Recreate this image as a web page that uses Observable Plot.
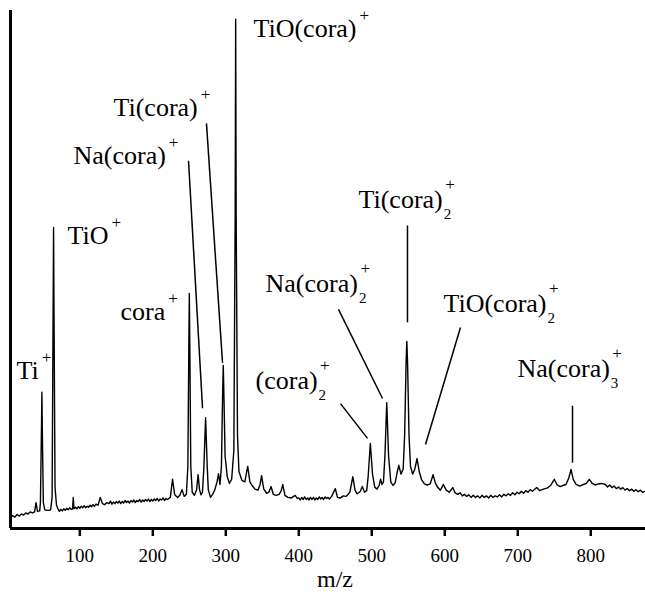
<!DOCTYPE html>
<html>
<head>
<meta charset="utf-8">
<script src="https://cdn.jsdelivr.net/npm/d3@7"></script>
<script src="https://cdn.jsdelivr.net/npm/@observablehq/plot@0.6"></script>
<style>
  html, body { margin: 0; padding: 0; background: #fff; }
  #chart svg { display: block; }
</style>
</head>
<body>
<div id="chart"></div>
<script>
// Mass spectrum: [m/z, relative intensity]
const spectrum = [
  [5, 2.0], [8, 2.5], [11, 2.2], [14, 2.7], [17, 2.4], [20, 2.8], [23, 2.6], [26, 3.0], [29, 2.8], [32, 3.2],
  [35, 3.0], [38, 3.2], [40, 5.0], [42, 3.3], [45, 3.4], [46, 5.0], [47.5, 20], [48, 26.3], [48.5, 20], [50, 5.0],
  [52, 3.6], [55, 3.5], [58, 3.5], [60, 3.6], [62, 6.0], [63.3, 40], [64, 58.1], [64.7, 40], [66, 8.0], [68, 4.5],
  [70, 3.8], [72, 3.3], [74, 3.7], [76, 3.4], [78, 3.8], [80, 3.5], [82, 3.9], [84, 3.6], [86, 4.0], [88, 3.7],
  [90, 3.8], [91, 6.0], [92, 3.8], [94, 4.1], [96, 3.8], [98, 4.2], [100, 3.9], [102, 4.3], [104, 4.0], [106, 4.4],
  [108, 4.0], [110, 4.3], [112, 4.1], [114, 4.5], [116, 4.2], [118, 4.6], [120, 4.3], [122, 4.7], [125, 4.5], [128, 6.0],
  [131, 4.8], [134, 4.6], [137, 5.0], [140, 4.8], [142, 5.3], [144, 4.7], [146, 5.1], [148, 4.8], [150, 5.2], [152, 4.9],
  [154, 5.3], [156, 4.8], [158, 5.2], [160, 4.9], [162, 5.4], [164, 5.0], [166, 5.3], [168, 4.9], [170, 5.4], [172, 5.1],
  [174, 5.5], [176, 5.0], [178, 5.4], [180, 5.2], [182, 5.6], [184, 5.1], [186, 5.5], [188, 5.2], [190, 5.6], [192, 5.3],
  [194, 5.7], [196, 5.2], [198, 5.6], [200, 5.3], [202, 5.7], [204, 5.4], [206, 5.8], [208, 5.3], [210, 5.7], [212, 5.5],
  [214, 5.9], [216, 5.4], [218, 5.8], [220, 5.6], [224, 6.0], [227, 9.5], [230, 6.5], [234, 6.0], [237, 6.4], [240, 7.5],
  [243, 6.2], [246, 6.6], [248, 12], [249.3, 35], [250, 45.4], [250.7, 35], [252, 12], [254, 7.0], [257, 6.4], [260, 7.5],
  [262, 10.4], [264, 7.5], [266, 6.5], [268, 7.0], [270, 12], [272.3, 21.4], [274.5, 12], [276, 7.5], [279, 6.0], [282, 6.6],
  [285, 7.5], [288, 9.0], [290, 10.6], [292, 8.5], [294, 12], [295.5, 25], [296.5, 31.5], [297.5, 25], [299, 14], [302, 10],
  [305, 8.7], [308, 9.5], [311, 15], [312.8, 60], [313.5, 98.3], [314.2, 60], [316, 18], [318, 11], [322, 9.3], [326, 9.0],
  [330, 12], [333, 9.0], [336, 8.3], [340, 7.6], [344, 7.4], [347, 8.5], [349, 10.2], [352, 7.6], [356, 6.8], [359, 7.0],
  [362, 8.1], [365, 6.6], [369, 6.4], [373, 6.6], [376, 7.3], [378, 8.5], [381, 6.4], [385, 6.0], [390, 5.9], [395, 6.4],
  [398, 5.8], [400, 5.9], [402, 5.5], [404, 6.0], [406, 5.6], [408, 6.1], [410, 5.6], [412, 5.9], [414, 5.5], [416, 6.0],
  [418, 5.6], [420, 6.0], [422, 5.5], [424, 5.9], [426, 5.6], [428, 6.1], [430, 5.7], [432, 6.0], [434, 5.6], [436, 6.1],
  [438, 5.8], [440, 6.0], [442, 5.7], [445, 6.2], [450, 7.7], [453, 6.0], [457, 5.9], [461, 6.3], [465, 6.2], [470, 7.0],
  [474, 10], [477, 7.4], [480, 6.7], [484, 7.1], [487, 8.1], [490, 7.0], [493, 7.3], [495, 10], [498, 16.4], [501, 10.5],
  [504, 8.0], [507, 7.6], [510, 8.3], [512, 9.5], [514, 8.5], [516, 9.0], [518, 14], [520.5, 24.3], [523, 14], [526, 9.0],
  [529, 8.3], [532, 8.8], [535, 11], [537, 12.2], [540, 10.5], [543, 11.5], [545, 18], [547, 32], [548, 36.1], [549, 32],
  [551, 18], [553, 12], [556, 10.5], [559, 11.5], [562, 13.5], [565, 11], [568, 9.5], [572, 8.6], [576, 8.4], [580, 8.6],
  [584, 10.4], [587, 8.8], [590, 8.0], [594, 7.4], [598, 8.5], [602, 7.4], [606, 7.0], [611, 7.9], [614, 6.9], [618, 6.6],
  [621, 6.9], [624, 6.3], [627, 6.6], [630, 6.2], [633, 6.5], [636, 6.0], [639, 6.4], [642, 6.0], [645, 6.3], [648, 5.9],
  [651, 6.4], [654, 6.0], [657, 6.3], [660, 5.9], [663, 6.4], [666, 6.0], [669, 6.3], [672, 6.1], [675, 6.5], [678, 6.1],
  [681, 6.6], [684, 6.3], [687, 6.7], [690, 6.4], [693, 6.9], [696, 6.5], [699, 7.0], [702, 6.7], [705, 7.2], [708, 6.8],
  [711, 7.3], [714, 7.0], [717, 7.5], [720, 7.2], [726, 7.9], [730, 7.3], [735, 7.6], [740, 7.8], [745, 8.3], [750, 9.5],
  [754, 8.4], [758, 8.1], [762, 8.3], [766, 8.5], [770, 9.8], [773, 11.4], [776, 9.5], [780, 8.5], [785, 8.2], [790, 8.5],
  [794, 8.7], [798, 9.5], [802, 8.7], [806, 8.4], [810, 8.6], [815, 8.7], [820, 8.5], [823, 8.0], [826, 8.4], [829, 7.9],
  [832, 8.2], [835, 7.7], [838, 8.0], [841, 7.6], [844, 7.9], [847, 7.4], [850, 7.7], [853, 7.3], [856, 7.6], [859, 7.2],
  [862, 7.5], [865, 7.1], [868, 7.4], [871, 7.0], [875, 7.2]
];

// x tick labels
const xTicks = [100, 200, 300, 400, 500, 600, 700, 800];

// Ion labels: text, subscript, charge, anchor (m/z, intensity)
const labelText   = ["Ti", "TiO", "cora", "Na(cora)", "Ti(cora)", "TiO(cora)", "(cora)", "Na(cora)", "Ti(cora)", "TiO(cora)", "Na(cora)"];
const labelSub    = ["", "", "", "", "", "", "2", "2", "2", "2", "3"];
const labelCharge = ["+", "+", "+", "+", "+", "+", "+", "+", "+", "+", "+"];
const labelMz     = [13.2, 83.1, 155.7, 91.3, 146.1, 337.9, 340.7, 354.4, 481.8, 598.2, 699.6];
const labelInt    = [28.8, 55.0, 40.3, 70.3, 79.7, 94.8, 27.0, 45.6, 61.8, 41.7, 29.2];

// Leader lines from label to peak (m/z, intensity)
const leadMz1  = [248.9, 273.5, 548.9, 454.4, 457.1, 621.5, 775.0];
const leadInt1 = [71.0, 78.2, 58.5, 42.3, 24.1, 38.8, 23.7];
const leadMz2  = [268.1, 295.5, 548.9, 514.7, 494.1, 573.6, 775.0];
const leadInt2 = [23.2, 32.0, 39.8, 25.1, 17.4, 16.2, 12.7];

const specData = spectrum.map(([mz, i]) => ({mz, i}));
const labels = labelText.map((t, k) => ({t, mz: labelMz[k], i: labelInt[k]}));
const leaders = leadMz1.map((m, k) => ({x1: m, y1: leadInt1[k], x2: leadMz2[k], y2: leadInt2[k]}));

const FONT = "Liberation Serif";

const plot = Plot.plot({
  width: 645,
  height: 593,
  marginLeft: 10,
  marginRight: 0,
  marginTop: 10,
  marginBottom: 65,
  style: {color: "#000", background: "#fff"},
  x: {domain: [5, 875]},
  y: {domain: [0, 100], axis: null},
  marks: [
    Plot.line(specData, {x: "mz", y: "i", stroke: "#000", strokeWidth: 1.4}),
    Plot.link(leaders, {x1: "x1", y1: "y1", x2: "x2", y2: "y2", stroke: "#000", strokeWidth: 1.5}),
    Plot.text(labels, {x: "mz", y: "i", text: "t", textAnchor: "start", lineAnchor: "bottom",
      fontSize: 26, fill: "#000"}),
    Plot.ruleY([0], {stroke: "#000", strokeWidth: 3}),
    Plot.ruleX([5], {stroke: "#000", strokeWidth: 3}),
    Plot.axisX(xTicks, {tickSize: 8, tickPadding: 12, strokeWidth: 2.5, fontSize: 19, label: null}),
    Plot.text(["m/z"], {frameAnchor: "bottom", dx: 7, dy: 58, fontSize: 24, lineAnchor: "bottom", fill: "#000"})
  ]
});

// Serif font everywhere
plot.setAttribute("font-family", FONT);
plot.style.fontFamily = FONT;
plot.querySelectorAll("g, text").forEach(el => {
  if (el.hasAttribute("font-family")) el.setAttribute("font-family", FONT);
});
plot.querySelectorAll("text").forEach(el => { el.style.fontFamily = FONT; });

// Add subscripts and charge superscripts as real tspans
const NS = "http://www.w3.org/2000/svg";
const labelGroup = plot.querySelectorAll('g[aria-label="text"]')[0];
labelGroup.querySelectorAll('text').forEach((t, k) => {
  t.textContent = labelText[k];
  const mk = (txt, size, dx, dy) => {
    const s = document.createElementNS(NS, "tspan");
    s.setAttribute("font-size", size);
    s.setAttribute("dx", dx);
    s.setAttribute("dy", dy);
    s.setAttribute("fill", "#000");
    s.textContent = txt;
    t.appendChild(s);
  };
  if (labelSub[k]) {
    mk(labelSub[k], 15, 1, 11);
    mk(labelCharge[k], 17, -6, -29);
  } else {
    mk(labelCharge[k], 17, 3, -16);
  }
});

document.getElementById("chart").appendChild(plot);
</script>
</body>
</html>
